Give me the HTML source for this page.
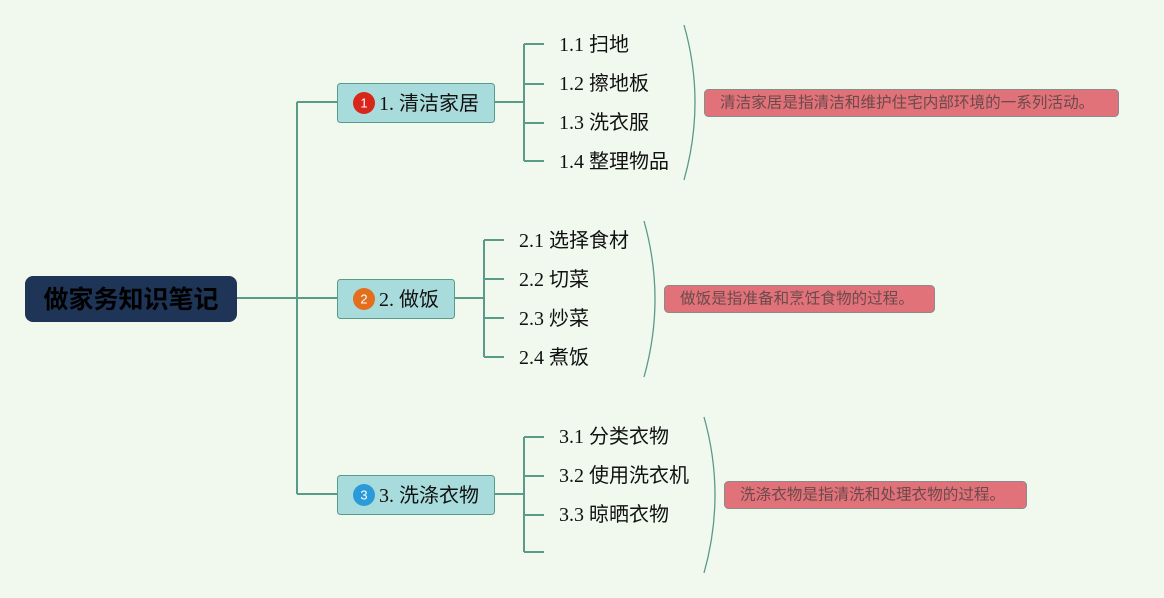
<!DOCTYPE html>
<html><head><meta charset="utf-8"><style>
html,body{margin:0;padding:0;background:#f1f9ef;}
svg{display:block}
.t{font-family:"Liberation Serif","Noto Sans CJK SC",serif;font-size:20px;fill:#111;dominant-baseline:central}
.n{font-family:"Liberation Sans","Noto Sans CJK SC",sans-serif;font-size:15.6px;fill:#6a4a4a;dominant-baseline:central}
.c{font-family:"Liberation Sans","Noto Sans CJK SC",sans-serif;font-size:13px;fill:#fff;text-anchor:middle;dominant-baseline:central}
</style></head><body>
<svg width="1164" height="598" xmlns="http://www.w3.org/2000/svg">
<g stroke="#5a9a88" stroke-width="2" fill="none">
<path d="M237 298H337M297 102V494M297 102H337M297 494H337"/>
<path d="M494 102H524M524 44V161M524 44H544M524 84H544M524 123H544M524 161H544"/>
<path d="M454 298H484M484 240V357M484 240H504M484 279H504M484 318H504M484 357H504"/>
<path d="M494 494H524M524 437V552M524 437H544M524 476H544M524 515H544M524 552H544"/>
</g>
<g stroke="#5a9a88" stroke-width="1.3" fill="none">
<path d="M684 25Q706 102 684 180"/>
<path d="M644 221Q666 299 644 377"/>
<path d="M704 417Q726 495 704 573"/>
</g>
<rect x="25" y="276" width="212" height="46" rx="8" fill="#1e3557"/>
<text x="131" y="300" text-anchor="middle" dominant-baseline="central" style="font-family:'Liberation Sans','Noto Sans CJK SC',sans-serif;font-size:25px;font-weight:bold;fill:#000">做家务知识笔记</text>
<g fill="#a8dcdc" stroke="#5a9a88" stroke-width="1">
<rect x="337.5" y="83.5" width="157" height="39" rx="3"/>
<rect x="337.5" y="279.5" width="117" height="39" rx="3"/>
<rect x="337.5" y="475.5" width="157" height="39" rx="3"/>
</g>
<circle cx="364" cy="103" r="11" fill="#d8261a"/><text class="c" x="364" y="103">1</text>
<circle cx="364" cy="299" r="11" fill="#e26e1e"/><text class="c" x="364" y="299">2</text>
<circle cx="364" cy="495" r="11" fill="#2b9ad8"/><text class="c" x="364" y="495">3</text>
<text class="t" x="379" y="104">1. 清洁家居</text>
<text class="t" x="379" y="300">2. 做饭</text>
<text class="t" x="379" y="496">3. 洗涤衣物</text>
<text class="t" x="559" y="45">1.1 扫地</text>
<text class="t" x="559" y="84">1.2 擦地板</text>
<text class="t" x="559" y="123">1.3 洗衣服</text>
<text class="t" x="559" y="162">1.4 整理物品</text>
<text class="t" x="519" y="241">2.1 选择食材</text>
<text class="t" x="519" y="280">2.2 切菜</text>
<text class="t" x="519" y="319">2.3 炒菜</text>
<text class="t" x="519" y="358">2.4 煮饭</text>
<text class="t" x="559" y="437">3.1 分类衣物</text>
<text class="t" x="559" y="476">3.2 使用洗衣机</text>
<text class="t" x="559" y="515">3.3 晾晒衣物</text>
<g fill="#e2727a" stroke="#8a8a8a" stroke-width="1">
<rect x="704.5" y="89.5" width="414" height="27" rx="4"/>
<rect x="664.5" y="285.5" width="270" height="27" rx="4"/>
<rect x="724.5" y="481.5" width="302" height="27" rx="4"/>
</g>
<text class="n" x="720" y="103">清洁家居是指清洁和维护住宅内部环境的一系列活动。</text>
<text class="n" x="680" y="299">做饭是指准备和烹饪食物的过程。</text>
<text class="n" x="740" y="495">洗涤衣物是指清洗和处理衣物的过程。</text>
</svg>
</body></html>
